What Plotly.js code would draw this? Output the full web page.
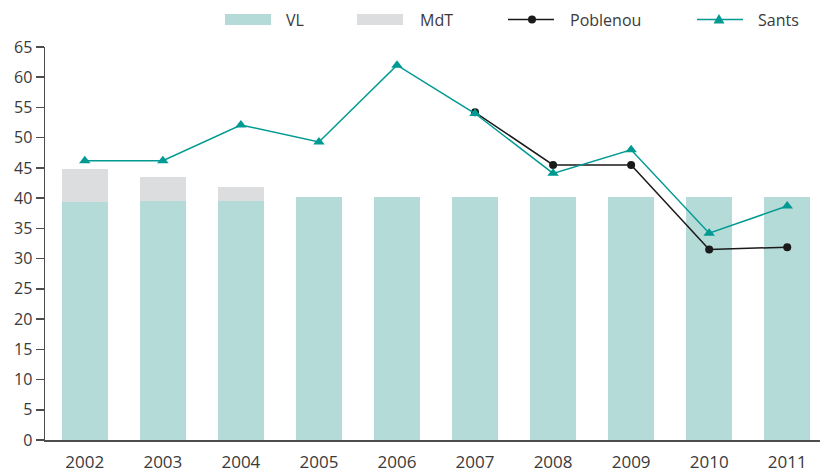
<!DOCTYPE html>
<html>
<head>
<meta charset="utf-8">
<script src="https://cdn.plot.ly/plotly-3.0.1.min.js"></script>
<style>html,body{margin:0;padding:0;background:#fff;}#chart{width:820px;height:472px;}</style>
</head>
<body>
<div id="chart"></div>
<script>
const years = ['2002','2003','2004','2005','2006','2007','2008','2009','2010','2011'];
const vl = [39.3, 39.5, 39.5, 40.2, 40.2, 40.2, 40.2, 40.2, 40.2, 40.2];
const mdt = [5.5, 4.0, 2.3, 0, 0, 0, 0, 0, 0, 0];
const poblenouYears = ['2007','2008','2009','2010','2011'];
const poblenou = [54.2, 45.5, 45.5, 31.5, 31.9];
const sants = [46.2, 46.2, 52.1, 49.3, 62.0, 54.0, 44.1, 48.0, 34.2, 38.7];
const yTicks = [0,5,10,15,20,25,30,35,40,45,50,55,60,65];
const seriesNames = ['VL', 'MdT', 'Poblenou', 'Sants'];

const colVL = '#b5dbd9', colMdT = '#dcdddf', colPob = '#1a1a1a', colSants = '#009a92';
const fam = '"Open Sans", "Noto Sans", sans-serif';
const txtCol = '#3a3a3a';

const traces = [
  {type:'bar', name:seriesNames[0], x: years, y: vl, marker:{color:colVL}},
  {type:'bar', name:seriesNames[1], x: years, y: mdt, marker:{color:colMdT}},
  {type:'scatter', mode:'lines+markers', name:seriesNames[2], x: poblenouYears, y: poblenou,
   line:{color:colPob, width:1.5}, marker:{symbol:'circle', size:8, color:colPob}},
  {type:'scatter', mode:'lines+markers', name:seriesNames[3], x: years, y: sants,
   line:{color:colSants, width:1.5}, marker:{symbol:'triangle-up', size:10, color:colSants}}
];

// custom legend (pixel -> paper conversion)
const L = 45, R = 820, T = 47, B = 440;
const px = p => (p - L) / (R - L);
const py = p => (B - p) / (B - T);
const ly = 19.5;
const shapes = [
  {type:'rect', xref:'paper', yref:'paper', x0:px(225), x1:px(271), y0:py(14), y1:py(25), fillcolor:colVL, line:{width:0}},
  {type:'rect', xref:'paper', yref:'paper', x0:px(357), x1:px(403), y0:py(14), y1:py(25), fillcolor:colMdT, line:{width:0}},
  {type:'line', xref:'paper', yref:'paper', x0:px(508), x1:px(554), y0:py(ly), y1:py(ly), line:{color:colPob, width:1.5}},
  {type:'circle', xref:'paper', yref:'paper', x0:px(528), x1:px(536), y0:py(ly-4), y1:py(ly+4), fillcolor:colPob, line:{width:0}},
  {type:'line', xref:'paper', yref:'paper', x0:px(697), x1:px(743), y0:py(ly), y1:py(ly), line:{color:colSants, width:1.5}},
  {type:'path', xref:'paper', yref:'paper',
   path:`M ${px(713.5)} ${py(ly+4)} L ${px(724.5)} ${py(ly+4)} L ${px(719)} ${py(ly-5.5)} Z`,
   fillcolor:colSants, line:{width:0}},
  // small extension of the x axis line to the left of the y axis
  {type:'line', xref:'paper', yref:'paper', x0:px(38), x1:px(45), y0:0, y1:0, line:{color:'#4d4d4d', width:1.5}}
];
const legendX = [284, 418, 568, 756];
const annotations = seriesNames.map((n, i) => ({
  xref:'paper', yref:'paper', x:px(legendX[i]), y:py(ly), xanchor:'left', yanchor:'middle',
  text:n, showarrow:false, font:{family:fam, size:16, color:txtCol}
}));

const layout = {
  width: 820, height: 472,
  margin: {l:L, r:820-R, t:T, b:472-B},
  paper_bgcolor:'#fff', plot_bgcolor:'#fff',
  barmode:'stack', bargap:0.41,
  font: {family:fam, size:16, color:txtCol},
  showlegend: false,
  shapes: shapes,
  annotations: annotations,
  xaxis: {type:'category', range:[-0.51, 9.42], showline:true, linecolor:'#4d4d4d', linewidth:1.5,
          ticks:'', showgrid:false, zeroline:false, ticklabelstandoff:6,
          tickfont:{family:fam, size:17, color:txtCol}, fixedrange:true},
  yaxis: {range:[0,65], tickvals:yTicks, showline:true, linecolor:'#4d4d4d', linewidth:1.5,
          ticks:'outside', ticklen:8, tickcolor:'#4d4d4d', tickwidth:1.5, showgrid:false, zeroline:false,
          tickfont:{family:fam, size:16, color:txtCol}, fixedrange:true}
};
Plotly.newPlot('chart', traces, layout, {displayModeBar:false, staticPlot:true});
</script>
</body>
</html>
